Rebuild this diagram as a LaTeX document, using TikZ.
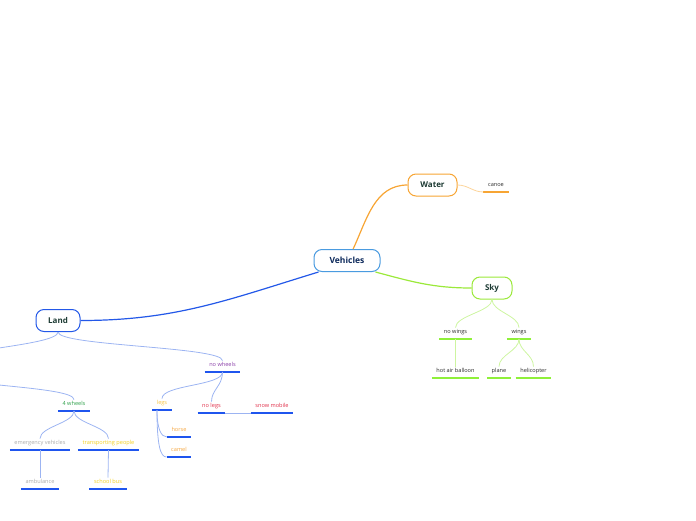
\documentclass[tikz,border=0pt]{standalone}
\usepackage{fontspec}
\setmainfont{Open Sans}
\usetikzlibrary{calc}
\definecolor{vblue}{HTML}{4A9BE0}
\definecolor{vtext}{HTML}{0D2A5C}
\definecolor{worange}{HTML}{F7A534}
\definecolor{sgreen}{HTML}{9BE93A}
\definecolor{lblue}{HTML}{2358E8}
\definecolor{maintext}{HTML}{1D3B34}
\definecolor{ublue}{HTML}{1F55EE}
\definecolor{cblue}{HTML}{9CB4F2}
\definecolor{ugreen}{HTML}{8FF03A}
\definecolor{cgreen}{HTML}{CDF5A0}
\definecolor{corange}{HTML}{FCD49A}
\definecolor{tpurple}{HTML}{8A3FA8}
\definecolor{tgreen}{HTML}{2EA04A}
\definecolor{tgray}{HTML}{AAAAAA}
\definecolor{tyellow}{HTML}{F2CF1E}
\definecolor{tlegs}{HTML}{F7C443}
\definecolor{torange}{HTML}{F5A742}
\definecolor{tred}{HTML}{E0304A}
\definecolor{tdark}{HTML}{2A2A2A}
\tikzset{
  mainbox/.style={draw, rounded corners=8pt, line width=1pt, fill=white,
    minimum height=22pt, inner sep=0pt, font=\fontsize{8}{9}\selectfont\bfseries, text=maintext},
  leaf/.style={inner xsep=4.5pt, inner ysep=3.5pt, text height=2.5pt, text depth=1.5pt,
    font=\fontsize{5.6}{6}\selectfont, anchor=south,
    append after command={\pgfextra{\let\LN\tikzlastnode
      \draw[draw=#1, line width=1.3pt] (\LN.south west) -- (\LN.south east);}}},
  lcon/.style={draw=cblue, line width=0.8pt},
  scon/.style={draw=cgreen, line width=0.8pt},
}
\begin{document}
\begin{tikzpicture}[x=1pt,y=1pt]
\useasboundingbox (0,0) rectangle (696,-520);
\begin{scope}
\clip (0,0) rectangle (696,-520);
% main nodes
\node[mainbox, draw=vblue, minimum width=66pt, text=vtext, font=\fontsize{8.5}{9}\selectfont\bfseries] (veh) at (347,-260.5) {Vehicles};
\node[mainbox, draw=worange, minimum width=49pt] (water) at (432.5,-185) {Water};
\node[mainbox, draw=sgreen, minimum width=40pt] (sky) at (492,-288) {Sky};
\node[mainbox, draw=lblue, minimum width=44pt] (land) at (58,-320.5) {Land};
% leaves
\node[leaf=worange, text=tdark] (canoe) at (496,-192) {canoe};
\node[leaf=ugreen, text=tdark] (nowings) at (455.5,-339) {no wings};
\node[leaf=ugreen, text=tdark] (wings) at (519,-339) {wings};
\node[leaf=ugreen, text=tdark] (hotair) at (455.5,-378) {hot air balloon};
\node[leaf=ugreen, text=tdark] (plane) at (499,-378) {plane};
\node[leaf=ugreen, text=tdark] (heli) at (533.5,-378) {helicopter};
\node[leaf=ublue, text=tpurple] (nowheels) at (222.5,-372) {no wheels};
\node[leaf=ublue, text=tgreen] (four) at (74,-411) {4 wheels};
\node[leaf=ublue, text=tgray] (emerg) at (40,-450) {emergency vehicles};
\node[leaf=ublue, text=tyellow] (transp) at (108.5,-450) {transporting people};
\node[leaf=ublue, text=tgray] (amb) at (40,-489) {ambulance};
\node[leaf=ublue, text=tyellow] (bus) at (108,-489) {school bus};
\node[leaf=ublue, text=tlegs] (legs) at (162,-410) {legs};
\node[leaf=ublue, text=torange] (horse) at (179,-437) {horse};
\node[leaf=ublue, text=torange] (camel) at (179,-457) {camel};
\node[leaf=ublue, text=tred] (nolegs) at (211.5,-413) {no legs};
\node[leaf=ublue, text=tred] (snow) at (272,-413) {snow mobile};
% off-screen parent of 4 wheels
\coordinate (wheelstop) at (-60,-364);
\coordinate (wheelsbot) at (-60,-372);
% main connectors
\draw[lblue, line width=1.2pt] (veh.202) to[out=197, in=0] (land.east);
\draw[worange, line width=1.2pt] (veh.62) to[out=65, in=180] (water.west);
\draw[sgreen, line width=1.2pt] (veh.-22) to[out=-15, in=180] (sky.west);
\draw[corange, line width=0.8pt] (water.east) to[out=0, in=180] (canoe.south west);
% sky subtree
\draw[scon] (sky.south) .. controls +(0,-12) and +(0,12) .. (nowings.north);
\draw[scon] (sky.south) .. controls +(0,-12) and +(0,12) .. (wings.north);
\draw[scon] (nowings.south) -- (hotair.north);
\draw[scon] (wings.south) .. controls +(0,-12) and +(0,12) .. (plane.north);
\draw[scon] (wings.south) .. controls +(0,-12) and +(0,12) .. (heli.north);
% land subtree
\draw[lcon] (land.south) .. controls +(0,-14) and +(0,14) .. (nowheels.north);
\draw[lcon] (land.south) .. controls +(0,-14) and +(0,14) .. (wheelstop);
\draw[lcon] (wheelsbot) .. controls +(0,-14) and +(0,14) .. (four.north);
\draw[lcon] (four.south) .. controls +(0,-12) and +(0,12) .. (emerg.north);
\draw[lcon] (four.south) .. controls +(0,-12) and +(0,12) .. (transp.north);
\draw[lcon] (emerg.south) -- (amb.north);
\draw[lcon] (transp.south) -- (bus.north);
\draw[lcon] (nowheels.south) .. controls +(0,-14) and +(0,14) .. (legs.north);
\draw[lcon] (nowheels.south) .. controls +(0,-14) and +(0,12) .. (nolegs.north);
\draw[lcon] ($(legs.south)+(-5,0)$) .. controls +(0,-18) and +(-6,0) .. (horse.south west);
\draw[lcon] ($(legs.south)+(-5,0)$) .. controls +(0,-36) and +(-6,0) .. (camel.south west);
\draw[lcon] (nolegs.south east) -- (snow.south west);
\end{scope}
\end{tikzpicture}
\end{document}
